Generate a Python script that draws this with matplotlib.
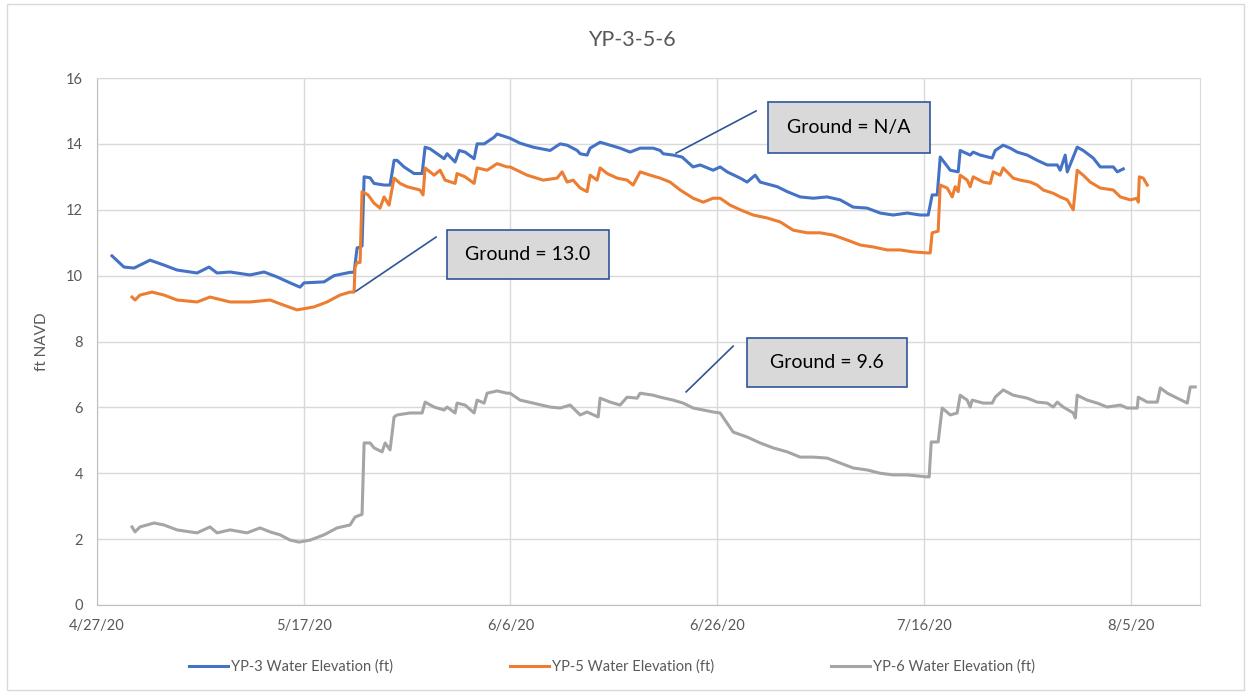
import matplotlib
matplotlib.use("Agg")
import matplotlib.pyplot as plt
import matplotlib.dates as mdates
from matplotlib.patches import Rectangle
import pandas as pd

plt.rcParams['font.family'] = ['Lato', 'DejaVu Sans']

start_date = "2020-04-27"

# day offsets from 4/27/20 and water elevations (ft NAVD)
yp3_days = [1.45, 2.61, 3.58, 5.13, 6.48, 7.74, 9.68, 10.84, 11.61, 12.87, 14.8, 16.16, 17.42, 18.68,
            19.64, 20.03, 21.96, 22.93, 24.48, 24.87, 25.16, 25.45, 25.64, 25.84, 26.42, 26.8, 27.77,
            28.35, 28.74, 29.03, 29.7, 30.67, 31.45, 31.74, 32.22, 32.9, 33.58, 33.87, 34.64, 35.03,
            35.61, 36.48, 36.77, 37.45, 38.41, 38.7, 39.67, 39.96, 40.93, 42.19, 43.83, 44.8, 45.48,
            46.45, 46.74, 47.41, 47.7, 48.67, 49.64, 50.6, 51.57, 52.54, 53.8, 54.48, 54.77, 55.73,
            56.6, 57.66, 58.35, 59.6, 60.28, 60.96, 62.22, 62.89, 63.67, 64.15, 65.8, 66.77, 68.02,
            69.28, 70.63, 71.89, 73.15, 74.5, 75.76, 77.02, 78.38, 79.63, 80.41, 80.79, 81.28, 81.57,
            82.54, 83.31, 83.5, 84.47, 84.76, 85.44, 86.6, 86.89, 87.66, 88.34, 89.02, 89.99, 90.95,
            91.92, 92.89, 93.18, 93.66, 93.86, 94.82, 95.4, 96.37, 97.05, 98.31, 98.7, 99.28]
yp3_vals = [10.6, 10.26, 10.23, 10.47, 10.32, 10.17, 10.08, 10.26, 10.08, 10.11, 10.02, 10.11, 9.96, 9.78,
            9.65, 9.78, 9.81, 10.0, 10.1, 10.1, 10.84, 10.87, 10.9, 13.0, 12.97, 12.8, 12.75,
            12.75, 13.5, 13.5, 13.3, 13.1, 13.1, 13.9, 13.85, 13.7, 13.55, 13.7, 13.45, 13.8,
            13.75, 13.55, 14.0, 14.0, 14.2, 14.3, 14.2, 14.17, 14.02, 13.9, 13.8, 14.0, 13.96,
            13.8, 13.7, 13.66, 13.87, 14.05, 13.96, 13.87, 13.75, 13.87, 13.87, 13.8, 13.7, 13.66,
            13.6, 13.3, 13.36, 13.2, 13.3, 13.15, 12.96, 12.84, 13.05, 12.84, 12.7, 12.55, 12.39,
            12.35, 12.39, 12.3, 12.08, 12.05, 11.9, 11.84, 11.9, 11.84, 11.84, 12.45, 12.45, 13.6,
            13.2, 13.15, 13.8, 13.66, 13.75, 13.66, 13.57, 13.8, 13.96, 13.87, 13.75, 13.66, 13.5,
            13.36, 13.36, 13.2, 13.66, 13.15, 13.9, 13.8, 13.57, 13.3, 13.3, 13.15, 13.24]

yp5_days = [3.39, 3.68, 4.16, 5.32, 6.48, 7.74, 9.68, 10.93, 12.87, 14.8, 16.74, 18.09, 19.35, 20.99,
            22.25, 23.51, 24.48, 24.87, 24.96, 25.16, 25.45, 25.64, 26.22, 26.8, 27.38, 27.77, 28.25,
            28.74, 29.32, 29.99, 31.25, 31.54, 31.74, 32.61, 33.19, 33.67, 34.64, 34.83, 35.61, 36.48,
            36.77, 37.74, 38.7, 39.67, 39.96, 41.61, 43.15, 44.51, 44.99, 45.48, 46.06, 46.74, 47.41,
            47.7, 48.38, 48.67, 49.35, 50.32, 51.28, 51.86, 52.54, 53.51, 54.48, 55.44, 56.41, 57.67,
            58.64, 59.6, 60.28, 61.25, 62.22, 63.47, 64.83, 66.09, 67.35, 68.7, 69.96, 71.22, 72.57,
            73.83, 75.09, 76.44, 77.7, 78.96, 80.31, 80.6, 80.79, 81.37, 81.57, 82.24, 82.73, 83.02,
            83.31, 83.5, 84.18, 84.47, 84.76, 85.73, 86.41, 86.7, 87.37, 87.66, 88.63, 89.31, 90.28,
            90.95, 91.53, 92.5, 93.18, 93.86, 94.44, 94.82, 95.4, 96.08, 97.05, 98.31, 98.99, 99.95,
            100.63, 100.73, 100.83, 101.21, 101.6]
yp5_vals = [9.35, 9.26, 9.41, 9.5, 9.41, 9.26, 9.2, 9.35, 9.2, 9.2, 9.26, 9.1, 8.96, 9.05,
            9.2, 9.41, 9.5, 9.5, 10.26, 10.4, 10.4, 12.55, 12.45, 12.2, 12.05, 12.39, 12.14,
            12.96, 12.8, 12.7, 12.6, 12.45, 13.27, 13.05, 13.2, 12.9, 12.8, 13.1, 13.0, 12.8,
            13.27, 13.2, 13.4, 13.3, 13.3, 13.05, 12.9, 12.96, 13.15, 12.84, 12.9, 12.66, 12.55,
            13.05, 12.9, 13.27, 13.1, 12.96, 12.9, 12.75, 13.15, 13.05, 12.96, 12.84, 12.6, 12.35,
            12.23, 12.35, 12.35, 12.14, 12.0, 11.84, 11.75, 11.63, 11.38, 11.3, 11.3, 11.23, 11.08,
            10.93, 10.87, 10.78, 10.78, 10.72, 10.69, 10.69, 11.3, 11.35, 12.75, 12.66, 12.39, 12.7,
            12.55, 13.05, 12.9, 12.7, 13.0, 12.84, 12.8, 13.15, 13.05, 13.27, 12.96, 12.9, 12.84,
            12.75, 12.6, 12.5, 12.39, 12.3, 12.0, 13.2, 13.05, 12.84, 12.66, 12.6, 12.39, 12.3,
            12.35, 12.23, 13.0, 12.96, 12.75]

yp6_days = [3.39, 3.68, 4.16, 5.52, 6.48, 7.74, 9.0, 9.68, 10.93, 11.61, 12.87, 14.51, 15.77, 16.74,
            17.71, 18.68, 19.55, 20.61, 21.96, 23.22, 24.48, 24.96, 25.45, 25.64, 25.84, 26.42, 26.8,
            27.58, 27.87, 28.35, 28.74, 29.03, 30.29, 31.45, 31.74, 32.61, 33.58, 33.87, 34.64, 34.83,
            35.61, 36.48, 36.77, 37.45, 37.74, 38.7, 39.67, 39.96, 40.93, 42.19, 43.83, 44.8, 45.77,
            46.74, 47.41, 48.48, 48.67, 49.64, 50.6, 51.28, 52.25, 52.54, 53.8, 54.48, 55.73, 56.7,
            57.67, 58.64, 59.6, 60.28, 61.54, 62.89, 64.15, 65.41, 66.77, 68.02, 69.28, 70.63, 71.89,
            73.15, 74.5, 75.76, 77.02, 78.38, 80.31, 80.5, 80.7, 81.37, 81.76, 82.54, 83.21, 83.5,
            84.18, 84.47, 84.66, 85.73, 86.6, 86.89, 87.66, 88.63, 89.99, 90.95, 91.92, 92.5, 92.89,
            93.47, 94.44, 94.64, 94.82, 95.79, 96.76, 97.72, 98.99, 99.66, 100.63, 100.73, 101.6,
            102.57, 102.86, 103.54, 104.5, 105.47, 105.76, 106.24]
yp6_vals = [2.37, 2.22, 2.37, 2.49, 2.43, 2.28, 2.22, 2.19, 2.37, 2.19, 2.28, 2.19, 2.34, 2.22,
            2.13, 1.97, 1.91, 1.97, 2.13, 2.34, 2.43, 2.67, 2.73, 2.75, 4.92, 4.92, 4.77,
            4.65, 4.92, 4.71, 5.71, 5.77, 5.83, 5.83, 6.16, 6.01, 5.92, 6.01, 5.83, 6.13,
            6.07, 5.83, 6.22, 6.13, 6.43, 6.5, 6.43, 6.43, 6.22, 6.13, 6.01, 5.98, 6.07,
            5.77, 5.86, 5.71, 6.28, 6.16, 6.07, 6.31, 6.28, 6.43, 6.37, 6.31, 6.22, 6.13,
            5.98, 5.92, 5.86, 5.83, 5.25, 5.1, 4.92, 4.77, 4.65, 4.49, 4.49, 4.46, 4.31,
            4.16, 4.1, 4.0, 3.95, 3.95, 3.89, 3.89, 4.95, 4.95, 5.98, 5.77, 5.83, 6.37,
            6.22, 6.01, 6.22, 6.13, 6.13, 6.31, 6.53, 6.37, 6.28, 6.16, 6.13, 6.01, 6.16,
            6.01, 5.83, 5.68, 6.37, 6.22, 6.13, 6.01, 6.07, 5.98, 5.98, 6.31, 6.16,
            6.16, 6.59, 6.43, 6.28, 6.13, 6.62, 6.62]

series_labels = ["YP-3 Water Elevation (ft)", "YP-5 Water Elevation (ft)", "YP-6 Water Elevation (ft)"]
series_colors = ["#4472C4", "#ED7D31", "#A5A5A5"]

annotations = ["Ground = 13.0", "Ground = N/A", "Ground = 9.6"]

base = pd.Timestamp(start_date)
def to_dates(days):
    return [base + pd.Timedelta(days=d) for d in days]

fig = plt.figure(figsize=(12.51, 6.94), dpi=100)
ax = fig.add_axes([97/1251, 1-605/694, (1200-97)/1251, (605-78)/694])

for d, v, lab, col in zip([yp3_days, yp5_days, yp6_days], [yp3_vals, yp5_vals, yp6_vals],
                          series_labels, series_colors):
    ax.plot(to_dates(d), v, color=col, lw=2.2, label=lab, solid_joinstyle='round')

ax.set_ylim(0, 16)
ax.set_yticks(range(0, 17, 2))
ax.set_xlim(base, base + pd.Timedelta(days=106.7))
ticks = [base + pd.Timedelta(days=20*i) for i in range(6)]
ax.set_xticks(ticks)
ax.set_xticklabels([f"{t.month}/{t.day}/{t.strftime('%y')}" for t in ticks])

grid_col = "#D9D9D9"
ax.grid(True, color=grid_col, lw=1.0)
ax.set_axisbelow(True)
for s in ["top", "right"]:
    ax.spines[s].set_color(grid_col)
for s in ["left", "bottom"]:
    ax.spines[s].set_color("#BFBFBF")
ax.tick_params(length=0, labelsize=10.5, colors="#595959", pad=10)
ax.set_ylabel("ft NAVD", fontsize=11, color="#595959", labelpad=12)

fig.suptitle("YP-3-5-6", y=1-40/694, va='center', fontsize=15.5, color="#595959", x=0.505)

# annotation boxes (day offset, value) and leader lines
def dnum(day):
    return mdates.date2num(base + pd.Timedelta(days=day))

boxes = [((33.87, 9.9), (49.54, 11.38)), ((64.93, 13.72), (80.6, 15.27)), ((62.9, 6.62), (78.37, 8.1))]
leaders = [((25.06, 9.53), (32.8, 11.17)), ((56.02, 13.72), (63.76, 15.0)), ((56.99, 6.47), (61.54, 7.86))]
for txt, (p0, p1), (l0, l1) in zip(annotations, boxes, leaders):
    x0, x1 = dnum(p0[0]), dnum(p1[0])
    ax.add_patch(Rectangle((x0, p0[1]), x1 - x0, p1[1] - p0[1], facecolor="#D9D9D9",
                           edgecolor="#2F5597", lw=1.2, zorder=5, clip_on=False))
    ax.text((x0 + x1) / 2, (p0[1] + p1[1]) / 2, txt, ha='center', va='center',
            fontsize=14, color="black", zorder=6)
    ax.plot([dnum(l0[0]), dnum(l1[0])], [l0[1], l1[1]], color="#2F5597", lw=1.2, zorder=4)

leg = fig.legend(loc='center', bbox_to_anchor=(0.489, 1-667/694), ncol=3, frameon=False,
                 fontsize=10.5, handlelength=2.7, handletextpad=0.2, columnspacing=8.0)
for t in leg.get_texts():
    t.set_color("#595959")

fig.patches.append(Rectangle((7/1251, 4/694), (1244-7)/1251, (690-4)/694, transform=fig.transFigure,
                             fill=False, edgecolor="#D9D9D9", lw=1.0))

fig.savefig("out.png", dpi=100)
